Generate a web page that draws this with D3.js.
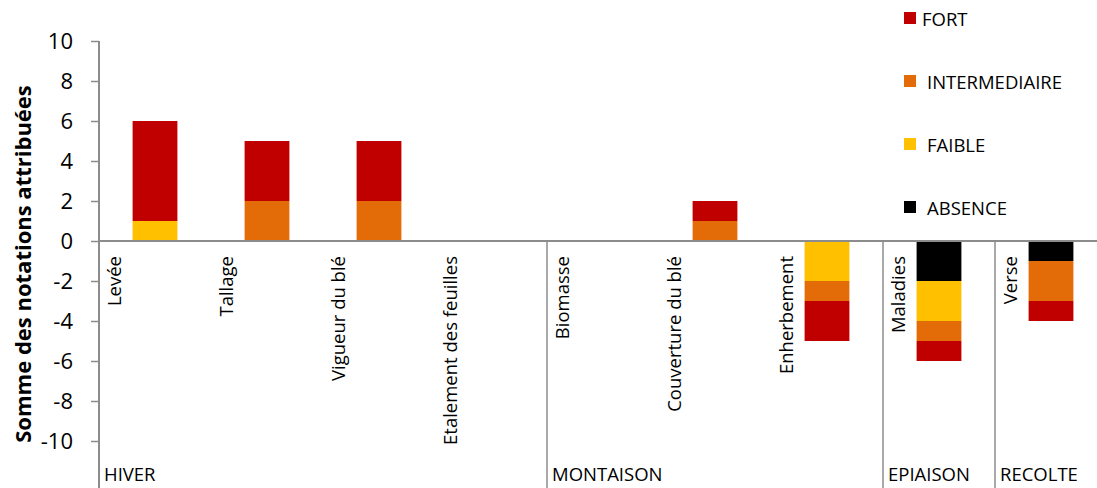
<!DOCTYPE html>
<html>
<head>
<meta charset="utf-8">
<script src="https://cdn.jsdelivr.net/npm/d3@7"></script>
<style>
  html, body { margin: 0; padding: 0; background: #fff; }
  svg { display: block; font-family: "Open Sans", "Noto Sans", sans-serif; }
</style>
</head>
<body>
<svg id="chart" width="1097" height="488"></svg>
<script>
const categories = ["Levée", "Tallage", "Vigueur du blé", "Etalement des feuilles", "Biomasse", "Couverture du blé", "Enherbement", "Maladies", "Verse"];
const groups = [
  { name: "HIVER", from: "Levée", to: "Etalement des feuilles" },
  { name: "MONTAISON", from: "Biomasse", to: "Enherbement" },
  { name: "EPIAISON", from: "Maladies", to: "Maladies" },
  { name: "RECOLTE", from: "Verse", to: "Verse" }
];
const seriesNames = ["ABSENCE", "FAIBLE", "INTERMEDIAIRE", "FORT"];
const absence       = [0, 0, 0, 0, 0, 0, 0, -2, -1];
const faible        = [1, 0, 0, 0, 0, 0, -2, -2, 0];
const intermediaire = [0, 2, 2, 0, 0, 1, -1, -1, -2];
const fort          = [5, 3, 3, 0, 0, 1, -2, -1, -1];
const legendOrder = ["FORT", "INTERMEDIAIRE", "FAIBLE", "ABSENCE"];
const yTicks = [-10, -8, -6, -4, -2, 0, 2, 4, 6, 8, 10];
const colors = { FORT: "#C00000", INTERMEDIAIRE: "#E36C09", FAIBLE: "#FFC000", ABSENCE: "#000000" };

const table = categories.map((c, i) => ({
  cat: c, ABSENCE: absence[i], FAIBLE: faible[i], INTERMEDIAIRE: intermediaire[i], FORT: fort[i]
}));

const svg = d3.select("#chart");
const plotLeft = 99, plotTop = 41, plotBottom = 441;
const step = 112;
const x = d3.scaleBand().domain(categories).range([plotLeft, plotLeft + step * categories.length]).padding(0);
const y = d3.scaleLinear().domain([-10, 10]).range([plotBottom, plotTop]);
const barW = x.bandwidth() * 0.4;

const stack = d3.stack().keys(seriesNames).offset(d3.stackOffsetDiverging);
const stacked = stack(table);

// bars
svg.append("g").selectAll("g").data(stacked).join("g")
  .attr("fill", d => colors[d.key])
  .selectAll("rect").data(d => d.filter(p => p[1] !== p[0])).join("rect")
  .attr("x", d => x(d.data.cat) + (x.bandwidth() - barW) / 2)
  .attr("width", barW)
  .attr("y", d => y(Math.max(d[0], d[1])))
  .attr("height", d => Math.abs(y(d[0]) - y(d[1])));

// y axis
const yAxis = d3.axisLeft(y).tickValues(yTicks).tickSize(8).tickPadding(18)
  .tickFormat(d => String(d));
const yg = svg.append("g").attr("transform", `translate(${plotLeft},0)`).call(yAxis);
yg.select(".domain").remove();
yg.selectAll(".tick line").attr("stroke", "#8c8c8c").attr("stroke-width", 1.5);
yg.selectAll(".tick text").attr("font-size", 22).attr("fill", "#000")
  .attr("font-family", "Open Sans, sans-serif");
// full-height vertical axis line
svg.append("line").attr("x1", plotLeft).attr("x2", plotLeft).attr("y1", plotTop).attr("y2", 488)
  .attr("stroke", "#8c8c8c").attr("stroke-width", 2);

// zero line
svg.append("line").attr("x1", plotLeft).attr("x2", 1097).attr("y1", y(0)).attr("y2", y(0))
  .attr("stroke", "#8c8c8c").attr("stroke-width", 2);

// group separators
groups.slice(1).forEach(g => {
  const gx = x(g.from);
  svg.append("line").attr("x1", gx).attr("x2", gx).attr("y1", y(0)).attr("y2", 488)
    .attr("stroke", "#8c8c8c").attr("stroke-width", 1.5);
});

// category labels
svg.append("g").selectAll("text").data(categories).join("text")
  .attr("transform", d => `translate(${x(d) + 14},${y(0) + 15}) rotate(-90)`)
  .attr("text-anchor", "end")
  .attr("dominant-baseline", "central")
  .attr("font-size", 18.5)
  .attr("fill", "#000")
  .text(d => d);

// group labels
svg.append("g").selectAll("text").data(groups).join("text")
  .attr("x", d => x(d.from) + 5)
  .attr("y", 481)
  .attr("font-size", 18.5)
  .attr("fill", "#000")
  .text(d => d.name);

// y title
svg.append("text")
  .attr("transform", `translate(22,${(80 + 448) / 2}) rotate(-90)`)
  .attr("text-anchor", "middle")
  .attr("dominant-baseline", "central")
  .attr("font-size", 22)
  .attr("font-weight", "bold")
  .attr("fill", "#000")
  .text("Somme des notations attribuées");

// legend
const lg = svg.append("g").selectAll("g").data(legendOrder).join("g")
  .attr("transform", (d, i) => `translate(904,${18 + i * 63})`);
lg.append("rect").attr("x", 0).attr("y", -6).attr("width", 12).attr("height", 12).attr("fill", d => colors[d]);
lg.append("text").attr("x", (d, i) => i === 0 ? 18 : 23).attr("y", 0)
  .attr("dominant-baseline", "central")
  .attr("font-size", 18.5)
  .attr("fill", "#000")
  .text(d => d);
</script>
</body>
</html>
